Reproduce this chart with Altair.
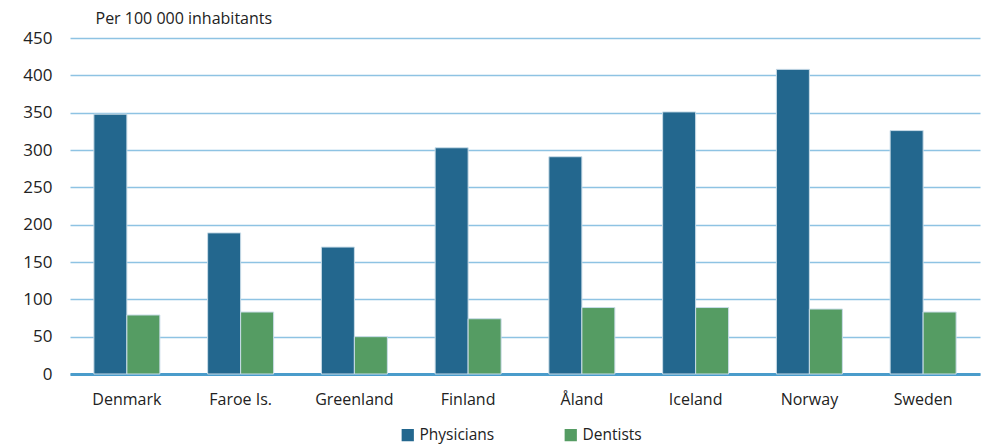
import altair as alt
import pandas as pd

countries = ["Denmark", "Faroe Is.", "Greenland", "Finland", "Åland", "Iceland", "Norway", "Sweden"]
physicians = [348, 189, 170, 303, 291, 351, 408, 326]
dentists = [79, 83, 50, 74, 89, 89, 87, 83]
series = ["Physicians", "Dentists"]
colors = ["#23678E", "#559C63"]

rows = []
for c, p, d in zip(countries, physicians, dentists):
    rows.append({"country": c, "type": "Physicians", "value": p})
    rows.append({"country": c, "type": "Dentists", "value": d})
df = pd.DataFrame(rows)

FONT = "Open Sans"

chart = alt.Chart(df).mark_bar(stroke="#c9dce8", strokeWidth=1).encode(
    x=alt.X("country:N", sort=countries,
            scale=alt.Scale(paddingInner=0.42, paddingOuter=0.21),
            axis=alt.Axis(title=None, labelAngle=0, labelFontSize=16, labelPadding=17,
                          labelColor="#222222", labelFont=FONT, ticks=False,
                          domainColor="#4A9CCB", domainWidth=3)),
    xOffset=alt.XOffset("type:N", sort=series),
    y=alt.Y("value:Q", scale=alt.Scale(domain=[0, 450]),
            axis=alt.Axis(values=list(range(0, 451, 50)), title="Per 100 000 inhabitants",
                          titleAngle=0, titleAlign="left", titleBaseline="middle",
                          titleX=25, titleY=-20, titleFontSize=16, titleFontWeight="normal",
                          titleColor="#222222", titleFont=FONT,
                          labelFontSize=17, labelPadding=18, labelColor="#222222", labelFont=FONT,
                          ticks=False, domain=False, gridColor="#8EC3E3", gridWidth=1.3)),
    color=alt.Color("type:N", sort=series,
                    scale=alt.Scale(domain=series, range=colors),
                    legend=alt.Legend(title=None, orient="none", direction="horizontal",
                                      legendX=330, legendY=389, symbolType="square",
                                      symbolSize=150, symbolStrokeWidth=0, symbolOpacity=1,
                                      labelFontSize=15.5, labelFont=FONT, labelColor="#222222",
                                      labelOffset=4, columnPadding=68)),
).properties(
    width=910, height=336,
    autosize=alt.AutoSizeParams(type="none"),
    padding={"left": 62, "top": 30, "right": 1, "bottom": 72},
).configure_view(stroke=None)

chart.save("out.html", embed_options={"renderer": "svg", "actions": False})
